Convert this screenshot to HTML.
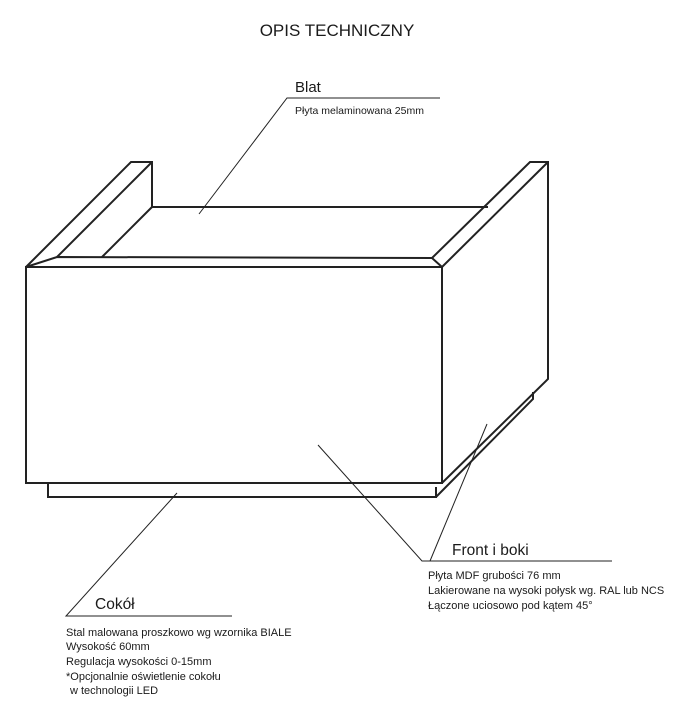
<!DOCTYPE html>
<html><head><meta charset="utf-8"><style>
html,body{margin:0;padding:0;background:#fff;}
svg{display:block;}
text{font-family:"Liberation Sans",sans-serif;fill:#1a1a1a;}
</style></head><body>
<svg width="684" height="714" viewBox="0 0 684 714" xmlns="http://www.w3.org/2000/svg">
<text x="337" y="36" font-size="17" text-anchor="middle">OPIS TECHNICZNY</text>
<g fill="none" stroke="#222" stroke-width="2" stroke-linejoin="miter">
<rect x="26" y="267" width="416" height="216"/>
<polyline points="48,483 48,497 436,497 436,487"/>
<polyline points="436,497 533,399 533,392"/>
<polyline points="26,267 131,162 152,162 152,207"/>
<line x1="152" y1="162" x2="57" y2="257"/>
<line x1="152" y1="207" x2="102" y2="257"/>
<polyline points="26,267 57,257 432,258 442,267"/>
<line x1="152" y1="207" x2="488" y2="207"/>
<polyline points="432,258 530,162 548,162 548,379 442,483"/>
<line x1="548" y1="162" x2="442" y2="267"/>
</g>
<g fill="none" stroke="#222" stroke-width="1">
<polyline points="199,214 287,98 440,98"/>
<polyline points="318,445 422,561 612,561"/>
<line x1="487" y1="424" x2="430" y2="561"/>
<polyline points="177,493 66,616 232,616"/>
</g>
<text x="295" y="92" font-size="15">Blat</text>
<text x="295" y="114" font-size="10.5">Płyta melaminowana 25mm</text>
<text x="452" y="555" font-size="15.5">Front i boki</text>
<text x="428" y="579" font-size="11">Płyta MDF grubości 76 mm</text>
<text x="428" y="594" font-size="11">Lakierowane na wysoki połysk wg. RAL lub NCS</text>
<text x="428" y="609" font-size="11">Łączone uciosowo pod kątem 45°</text>
<text x="95" y="609" font-size="15.5">Cokół</text>
<text x="66" y="636" font-size="11">Stal malowana proszkowo wg wzornika BIALE</text>
<text x="66" y="650" font-size="11">Wysokość 60mm</text>
<text x="66" y="665" font-size="11">Regulacja wysokości 0-15mm</text>
<text x="66" y="680" font-size="11">*Opcjonalnie oświetlenie cokołu</text>
<text x="70" y="694" font-size="11">w technologii LED</text>
</svg>
</body></html>
